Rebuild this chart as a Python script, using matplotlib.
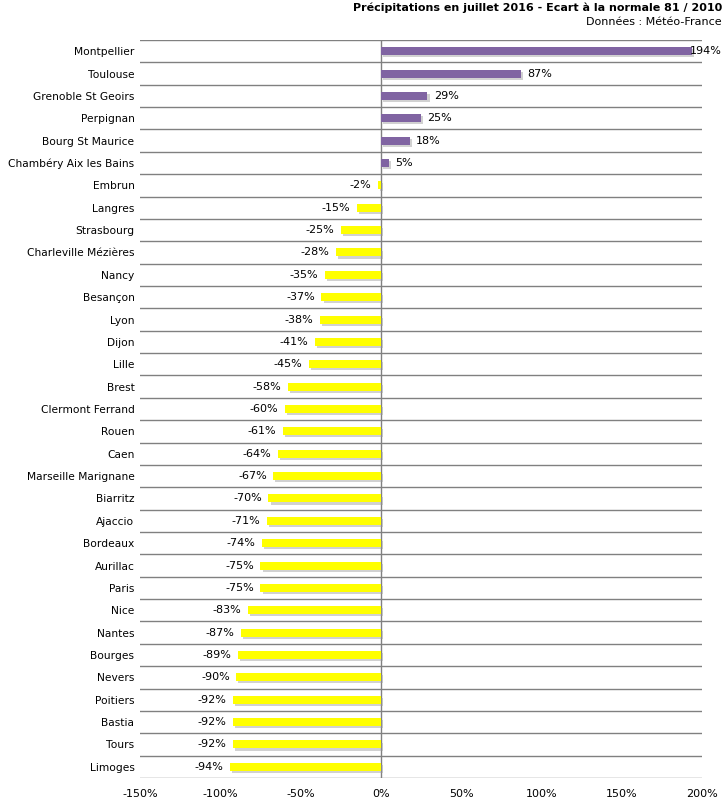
import matplotlib
matplotlib.use("Agg")
import matplotlib.pyplot as plt
import matplotlib.patheffects as pe
import numpy as np

stations = ["Montpellier", "Toulouse", "Grenoble St Geoirs", "Perpignan", "Bourg St Maurice",
            "Chambéry Aix les Bains", "Embrun", "Langres", "Strasbourg", "Charleville Mézières",
            "Nancy", "Besançon", "Lyon", "Dijon", "Lille", "Brest", "Clermont Ferrand", "Rouen",
            "Caen", "Marseille Marignane", "Biarritz", "Ajaccio", "Bordeaux", "Aurillac", "Paris",
            "Nice", "Nantes", "Bourges", "Nevers", "Poitiers", "Bastia", "Tours", "Limoges"]
ecart = [194, 87, 29, 25, 18, 5, -2, -15, -25, -28, -35, -37, -38, -41, -45, -58, -60, -61,
         -64, -67, -70, -71, -74, -75, -75, -83, -87, -89, -90, -92, -92, -92, -94]
xticks = [-150, -100, -50, 0, 50, 100, 150, 200]

plt.rcParams['font.family'] = ['DejaVu Sans']

fig = plt.figure(figsize=(7.27, 7.99), dpi=100)
ax = fig.add_axes([140/727, 1 - 778/799, (702 - 140)/727, (778 - 40)/799])

y = np.arange(len(stations))
colors = ['#8064A2' if v > 0 else '#FFFF00' for v in ecart]
bars = ax.barh(y, ecart, height=0.36, color=colors, zorder=3)
for b in bars:
    b.set_path_effects([pe.SimplePatchShadow(offset=(1.5, -1.5), shadow_rgbFace='#999999', alpha=0.45),
                        pe.Normal()])

for i, v in enumerate(ecart):
    if v > 0:
        if v > 150:
            ax.text(v - 1.5, i, f"{v}%", ha='left', va='center', fontsize=8, zorder=4)
        else:
            ax.text(v + 4, i, f"{v}%", ha='left', va='center', fontsize=8, zorder=4)
    else:
        ax.text(v - 4, i, f"{v}%", ha='right', va='center', fontsize=8, zorder=4)

# separators between rows
for k in range(len(stations) + 1):
    ax.axhline(k - 0.5, color='#808080', lw=1, zorder=1)
ax.axvline(0, color='#808080', lw=1, zorder=2)

ax.set_xlim(-150, 200)
ax.set_ylim(len(stations) - 0.5, -0.5)
ax.set_yticks(y)
ax.set_yticklabels(stations, fontsize=7.7)
ax.set_xticks(xticks)
ax.set_xticklabels([f"{t}%" for t in xticks], fontsize=8)
ax.tick_params(length=0, pad=4)
ax.tick_params(axis='x', pad=8)
for s in ax.spines.values():
    s.set_visible(False)

fig.text(722/727, 1 - 8/799, "Précipitations en juillet 2016 - Ecart à la normale 81 / 2010",
         ha='right', va='center', fontsize=8, fontweight='bold')
fig.text(722/727, 1 - 22/799, "Données : Météo-France", ha='right', va='center', fontsize=8)

fig.savefig("out.png", dpi=100)
